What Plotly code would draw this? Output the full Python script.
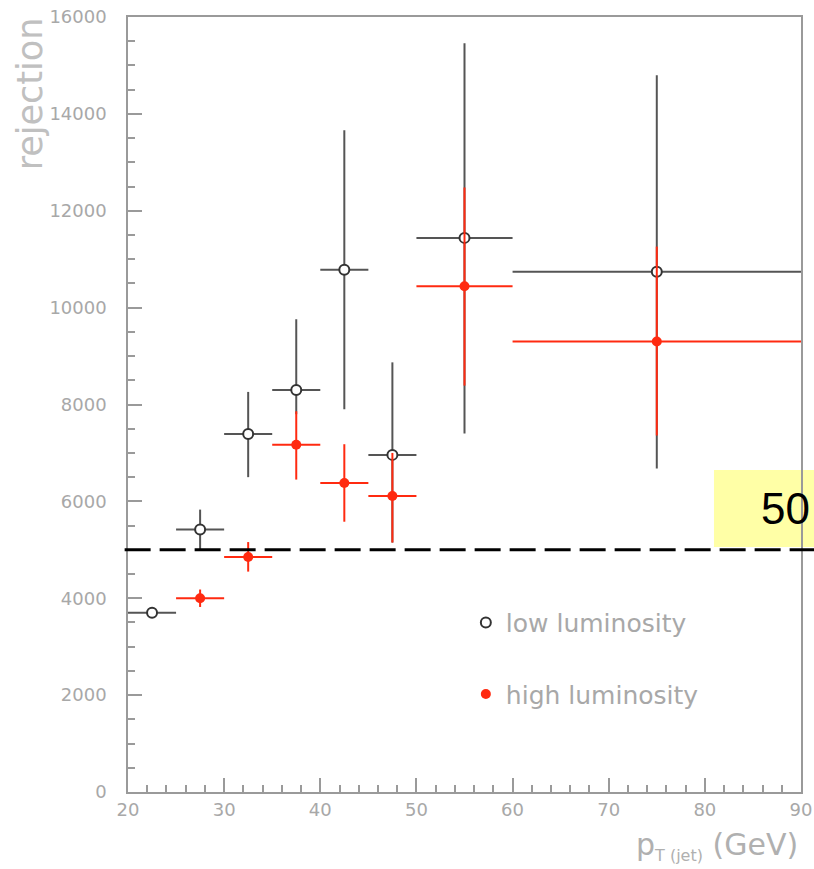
import plotly.graph_objects as go

# ---- data ----
low_x = [22.5, 27.5, 32.5, 37.5, 42.5, 47.5, 55.0, 75.0]
low_xerr = [2.5, 2.5, 2.5, 2.5, 2.5, 2.5, 5.0, 15.0]
low_y = [3700, 5420, 7390, 8300, 10780, 6960, 11440, 10740]
low_up = [100, 410, 870, 1460, 2880, 1910, 4020, 4060]
low_dn = [100, 420, 890, 500, 2880, 1810, 4040, 4060]

high_x = [27.5, 32.5, 37.5, 42.5, 47.5, 55.0, 75.0]
high_xerr = [2.5, 2.5, 2.5, 2.5, 2.5, 5.0, 15.0]
high_y = [4000, 4850, 7170, 6380, 6110, 10440, 9300]
high_up = [180, 310, 690, 800, 890, 2040, 1960]
high_dn = [180, 300, 720, 800, 960, 2050, 1940]

threshold = 5000
box_label = "50"
x_ticks = [20, 30, 40, 50, 60, 70, 80, 90]
y_ticks = [0, 2000, 4000, 6000, 8000, 10000, 12000, 14000, 16000]

GRAY = "#a8a8a8"
RED = "#ff2a10"

fig = go.Figure()
fig.add_trace(go.Scatter(
    x=low_x, y=low_y, mode="markers", name="low luminosity",
    legendgroup="a",
    marker=dict(symbol="circle", size=10, color="white",
                line=dict(color="#333333", width=2)),
    error_x=dict(type="data", array=low_xerr, color="#555555", thickness=2, width=0),
    error_y=dict(type="data", array=low_up, arrayminus=low_dn, symmetric=False,
                 color="#555555", thickness=2, width=0),
))
fig.add_trace(go.Scatter(
    x=high_x, y=high_y, mode="markers", name="high luminosity",
    legendgroup="b",
    marker=dict(symbol="circle", size=10, color=RED, line=dict(width=0)),
    error_x=dict(type="data", array=high_xerr, color=RED, thickness=2, width=0),
    error_y=dict(type="data", array=high_up, arrayminus=high_dn, symmetric=False,
                 color=RED, thickness=2, width=0),
))

axis_common = dict(
    showgrid=False, zeroline=False, showline=True, linecolor="#9a9a9a",
    linewidth=1.5, mirror=True, ticks="inside", ticklen=14, tickwidth=1.5,
    tickcolor="#9a9a9a", automargin=False,
    tickfont=dict(family="DejaVu Sans", size=18, color=GRAY),
)
fig.update_xaxes(range=[20, 90], tickvals=x_ticks, ticklabelstandoff=1,
                 minor=dict(dtick=2, ticks="inside", ticklen=7, tickcolor="#9a9a9a",
                            tickwidth=1.5),
                 **axis_common)
fig.update_yaxes(range=[0, 16000], tickvals=y_ticks, tickformat="d",
                 ticklabelstandoff=16,
                 minor=dict(dtick=500, ticks="inside", ticklen=7, tickcolor="#9a9a9a",
                            tickwidth=1.5),
                 **axis_common)

# dashed threshold line (overlay)
fig.add_shape(type="line", xref="paper", yref="y", x0=-0.005, x1=1.02,
              y0=threshold, y1=threshold,
              line=dict(color="black", width=3, dash="26px,9px"))
# yellow label box
fig.add_shape(type="rect", xref="paper", yref="paper", x0=0.8707, x1=1.02,
              y0=0.316, y1=0.4155, fillcolor="#ffffa6", line=dict(width=0),
              layer="below")
fig.add_annotation(xref="paper", yref="paper", x=1.016, y=0.366,
                   xanchor="right", yanchor="middle", text=box_label,
                   showarrow=False,
                   font=dict(family="Liberation Sans", size=44, color="black"))

# axis titles
fig.add_annotation(xref="paper", yref="paper", x=-0.145, y=1.002, xanchor="center",
                   yanchor="top", text="rejection", textangle=-90, showarrow=False,
                   font=dict(family="DejaVu Sans", size=35, color="#c0c0c0"))
fig.add_annotation(xref="paper", yref="paper", x=0.999, y=-0.043, xanchor="right",
                   yanchor="top",
                   text="p<sub><span style='font-size:16px'>T (jet)</span></sub> (GeV)",
                   showarrow=False,
                   font=dict(family="DejaVu Sans", size=30, color="#b0b0b0"))

fig.update_layout(
    width=814, height=869,
    margin=dict(l=128, r=13, t=17, b=77),
    paper_bgcolor="white", plot_bgcolor="white",
    showlegend=True,
    legend=dict(x=0.502, y=0.248, xanchor="left", yanchor="top",
                font=dict(family="DejaVu Sans", size=25, color=GRAY),
                tracegroupgap=36, bgcolor="rgba(0,0,0,0)"),
)

fig.write_html("out.html")
